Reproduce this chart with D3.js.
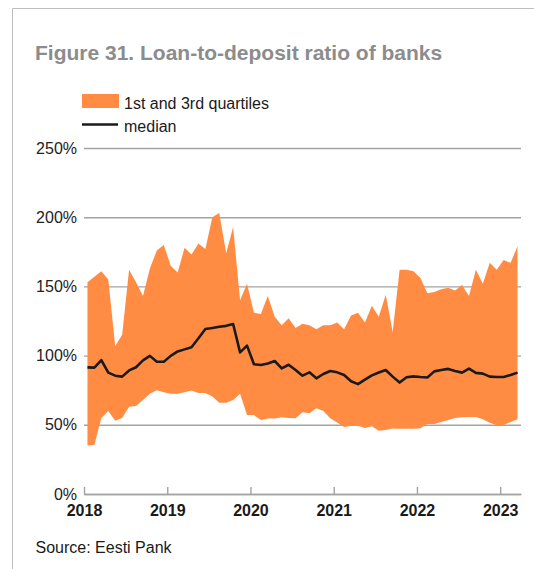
<!DOCTYPE html>
<html>
<head>
<meta charset="utf-8">
<script src="https://cdn.jsdelivr.net/npm/d3@7"></script>
<style>
  html, body { margin: 0; padding: 0; background: #fff; }
  svg { display: block; font-family: "Liberation Sans", Arial, Helvetica, sans-serif; }
</style>
</head>
<body>
<svg id="chart" width="534" height="569"></svg>
<script>
// Monthly observations, Jan 2018 – Mar 2023 (percent)
const startYear = 2018;
const yearTicks = [2018, 2019, 2020, 2021, 2022, 2023];
const yTicks = [0, 50, 100, 150, 200, 250];

const q3 = [153,157,161,155,107,115,162,153,143,163,
            176,180,165,160,178,173,181,177,200,203,
            174,193,140,152,131,130,143,128,122,127,
            120,123,122,119,122,122,124,119,129,131,
            124,136,128,144,117,162,162,161,156,145,
            146,148,149,147,151,143,162,152,167,162,
            169,167,179];

const q1 = [35,35.5,55,60,53,55,63,63.5,68,72.5,
            75,73.5,72.5,72.5,73.5,74.7,73,73,70.5,66,
            66,68,72.5,57,57,53.5,54.5,54.5,55.5,55,
            54.7,59,58.3,62,60,54.7,51.7,48.5,49.3,49.3,
            47.7,49,45.7,46.2,47.3,47.2,47.2,47.2,47.5,50.5,
            50.5,52,53.5,55,55.4,55.6,55.6,54,51.5,49.7,
            49.8,52,54];

const median = [91.5,91.3,96.8,87.7,85.5,84.8,89.3,91.6,96.5,99.8,
                95.6,95.6,99.8,103,104.5,106,112.5,119.2,120,120.9,
                121.5,122.8,102.3,107.2,93.8,93.2,94.3,96.1,90.8,93.4,
                89.6,85.5,87.9,83.6,86.7,88.9,87.9,86,81.5,79.4,
                82.6,85.7,87.8,89.6,84.8,80.5,84.3,85,84.5,84.2,
                88.6,89.6,90.4,88.9,87.7,90.6,87.5,87,84.8,84.5,
                84.5,86,87.7];

const legendLabels = ["1st and 3rd quartiles", "median"];
const titleText = "Figure 31. Loan-to-deposit ratio of banks";
const sourceText = "Source: Eesti Pank";

const orange = "#ff8c42";
const gridColor = "#a3a3a3";

const svg = d3.select("#chart");
const nMonths = median.length;

// Each month occupies one slot; points sit at the middle of their slot
const x = d3.scaleLinear()
  .domain([startYear, startYear + nMonths / 12])
  .range([84, 521]);
const y = d3.scaleLinear().domain([0, 250]).range([494, 148]);
const t = i => startYear + (i + 0.5) / 12;

// Frame
svg.append("path")
  .attr("d", "M12.5,569 V8.5 H534")
  .attr("fill", "none")
  .attr("stroke", "#bdbdbd")
  .attr("stroke-width", 1);

// Title
svg.append("text")
  .attr("x", 35).attr("y", 59.5)
  .attr("font-size", 21).attr("font-weight", "bold")
  .attr("fill", "#8c8c8c")
  .text(titleText);

// Legend
const lg = svg.append("g");
lg.append("rect").attr("x", 82).attr("y", 94).attr("width", 37).attr("height", 14).attr("fill", orange);
lg.append("text").attr("x", 124).attr("y", 109).attr("font-size", 16).attr("fill", "#1a1a1a").text(legendLabels[0]);
lg.append("line").attr("x1", 82).attr("x2", 118).attr("y1", 124.5).attr("y2", 124.5)
  .attr("stroke", "#1a1a1a").attr("stroke-width", 2.6);
lg.append("text").attr("x", 124).attr("y", 132).attr("font-size", 16).attr("fill", "#1a1a1a").text(legendLabels[1]);

// Horizontal gridlines + y labels
const yAxis = d3.axisLeft(y)
  .tickValues(yTicks)
  .tickSize(-(521 - 84))
  .tickPadding(7)
  .tickFormat(d => d + "%");
const yg = svg.append("g").attr("transform", "translate(84,0)").call(yAxis);
yg.select(".domain").remove();
yg.selectAll(".tick line").attr("stroke", gridColor).attr("stroke-width", 1.4);
yg.selectAll(".tick text")
  .attr("font-size", 16).attr("fill", "#222")
  .attr("font-family", "Liberation Sans, Arial, sans-serif");

// Interquartile band
const area = d3.area()
  .x((d, i) => x(t(i)))
  .y0((d, i) => y(q1[i]))
  .y1((d, i) => y(q3[i]));
svg.append("path").datum(q3).attr("d", area).attr("fill", orange);

// Median line
const line = d3.line().x((d, i) => x(t(i))).y(d => y(d));
svg.append("path").datum(median).attr("d", line)
  .attr("fill", "none").attr("stroke", "#1a1a1a")
  .attr("stroke-width", 2.6).attr("stroke-linejoin", "round");

// X axis
const xAxis = d3.axisBottom(x)
  .tickValues(yearTicks)
  .tickSizeInner(-7)
  .tickSizeOuter(0)
  .tickPadding(0)
  .tickFormat(d3.format("d"));
const xg = svg.append("g").attr("transform", "translate(0,494)").call(xAxis);
xg.select(".domain").attr("stroke", gridColor).attr("stroke-width", 1.4);
xg.selectAll(".tick line").attr("stroke", gridColor).attr("stroke-width", 1.4);
xg.selectAll(".tick text")
  .attr("y", 21.5).attr("dy", null)
  .attr("font-size", 16).attr("font-weight", "bold").attr("fill", "#1a1a1a")
  .attr("font-family", "Liberation Sans, Arial, sans-serif");

// Source
svg.append("text")
  .attr("x", 35.5).attr("y", 552.5)
  .attr("font-size", 16).attr("fill", "#1a1a1a")
  .text(sourceText);
</script>
</body>
</html>
